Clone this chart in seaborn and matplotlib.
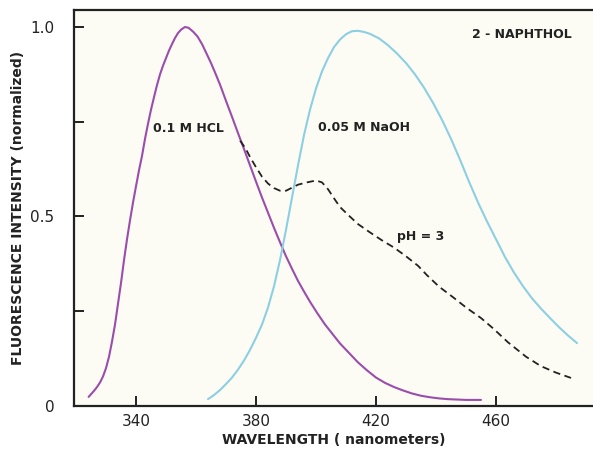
import numpy as np
import pandas as pd
import matplotlib
matplotlib.use("Agg")
import matplotlib.pyplot as plt
import seaborn as sns

# Fluorescence spectra of 2-naphthol
hcl_wl = [324.2, 325, 326, 327, 328, 329, 330, 331, 332, 333, 334, 335, 336, 337, 338, 339,
          340, 341, 342, 343, 344, 345, 346, 347, 348, 349, 350, 351, 352, 353, 354, 355,
          356.3, 357.5, 359, 360.5, 362, 363.5, 365, 366.5, 368, 370, 372, 374, 376, 378,
          380, 382, 384, 386, 388, 390, 392, 394, 396, 398, 400.5, 403, 405.5, 408, 411,
          414, 417, 420, 423, 426, 429, 432, 435, 438, 441, 444, 447, 450, 455]
hcl_int = [0.024, 0.031, 0.04, 0.05, 0.062, 0.078, 0.10, 0.13, 0.17, 0.215, 0.27, 0.325,
           0.385, 0.44, 0.49, 0.537, 0.58, 0.622, 0.66, 0.705, 0.745, 0.782, 0.815, 0.847,
           0.875, 0.898, 0.918, 0.938, 0.955, 0.971, 0.984, 0.993, 1.0, 0.998, 0.988, 0.975,
           0.955, 0.93, 0.905, 0.877, 0.848, 0.805, 0.763, 0.72, 0.678, 0.635, 0.592, 0.55,
           0.51, 0.47, 0.432, 0.395, 0.362, 0.33, 0.302, 0.275, 0.244, 0.215, 0.19, 0.165,
           0.14, 0.115, 0.094, 0.075, 0.061, 0.05, 0.041, 0.033, 0.027, 0.023, 0.02, 0.018,
           0.017, 0.016, 0.016]

naoh_wl = [364, 366, 368, 370, 372, 374, 376, 378, 380, 382, 384, 386, 388, 390, 392, 394,
           396, 398, 400, 402, 404, 406, 408, 410, 412, 414, 416, 418, 421, 424, 427, 430,
           433, 436, 439, 442, 445, 448, 451, 454, 457, 460, 463, 466, 469, 472, 475, 478,
           481, 484, 487]
naoh_int = [0.018, 0.029, 0.042, 0.058, 0.075, 0.096, 0.12, 0.148, 0.18, 0.215, 0.26,
            0.316, 0.385, 0.465, 0.55, 0.635, 0.715, 0.782, 0.838, 0.883, 0.918, 0.947, 0.967,
            0.981, 0.989, 0.99, 0.987, 0.982, 0.97, 0.952, 0.93, 0.905, 0.875, 0.84, 0.80,
            0.755, 0.705, 0.65, 0.592, 0.537, 0.487, 0.44, 0.393, 0.352, 0.316, 0.284, 0.257,
            0.232, 0.208, 0.186, 0.166]

ph3_wl = [374.7, 376.5, 378, 380, 382, 384, 386, 388, 390, 392, 394, 397, 400, 402, 404, 406,
          408, 411, 414, 418, 422, 426, 430, 434, 437, 441, 446, 450, 455, 459, 464, 470, 475,
          480, 485]
ph3_int = [0.70, 0.68, 0.657, 0.63, 0.605, 0.587, 0.575, 0.568, 0.568, 0.576, 0.584, 0.59,
           0.595, 0.59, 0.572, 0.548, 0.525, 0.502, 0.48, 0.458, 0.437, 0.418, 0.395, 0.37,
           0.345, 0.315, 0.285, 0.26, 0.232, 0.205, 0.168, 0.13, 0.105, 0.088, 0.074]

x_ticks = [340, 380, 420, 460]
y_ticks = [0, 0.5, 1.0]
y_tick_labels = ["0", "0.5", "1.0"]
y_minor = [0.25, 0.75]

sns.set_style("ticks")
plt.rcParams['font.family'] = ['DejaVu Sans']

fig = plt.figure(figsize=(5.93, 4.53), dpi=100)
fig.patch.set_facecolor("white")
ax = fig.add_axes([0.1248, 0.1038, 0.8752, 0.8742])
ax.set_facecolor("#fdfcf4")

ink = "#222222"
sns.lineplot(x=hcl_wl, y=hcl_int, ax=ax, color="#9b4dab", linewidth=1.5, sort=False)
sns.lineplot(x=naoh_wl, y=naoh_int, ax=ax, color="#8ccfe3", linewidth=1.5, sort=False)
sns.lineplot(x=ph3_wl, y=ph3_int, ax=ax, color=ink, linewidth=1.3, sort=False,
             dashes=False, linestyle=(0, (4, 2.5)))

ax.set_xlim(319.33, 492.33)
ax.set_ylim(0, 1.045)

ax.set_xticks(x_ticks)
ax.set_yticks(y_ticks)
ax.set_yticklabels(y_tick_labels)
ax.set_yticks(y_minor, minor=True)
ax.tick_params(axis="both", which="both", direction="in", length=7, width=1.4,
               color=ink, labelsize=11, labelcolor=ink)
ax.tick_params(axis="x", pad=6)
ax.tick_params(axis="y", pad=14)

for side in ["left", "bottom", "top"]:
    ax.spines[side].set_linewidth(1.6)
    ax.spines[side].set_color(ink)
ax.spines["right"].set_visible(False)

ax.set_xlabel("WAVELENGTH ( nanometers)", fontsize=10, fontweight="bold", color=ink, labelpad=3)
ax.set_ylabel("FLUORESCENCE INTENSITY (normalized)", fontsize=10, fontweight="bold",
              color=ink, labelpad=4)

ax.text(345.7, 0.733, "0.1 M HCL", fontsize=9, fontweight="bold", color=ink, va="center")
ax.text(400.7, 0.736, "0.05 M NaOH", fontsize=9, fontweight="bold", color=ink, va="center")
ax.text(427, 0.446, "pH = 3", fontsize=9, fontweight="bold", color=ink, va="center")
ax.text(452, 0.98, "2 - NAPHTHOL", fontsize=9, fontweight="bold", color=ink, va="center")

fig.savefig("out.png", dpi=100, facecolor="white")
